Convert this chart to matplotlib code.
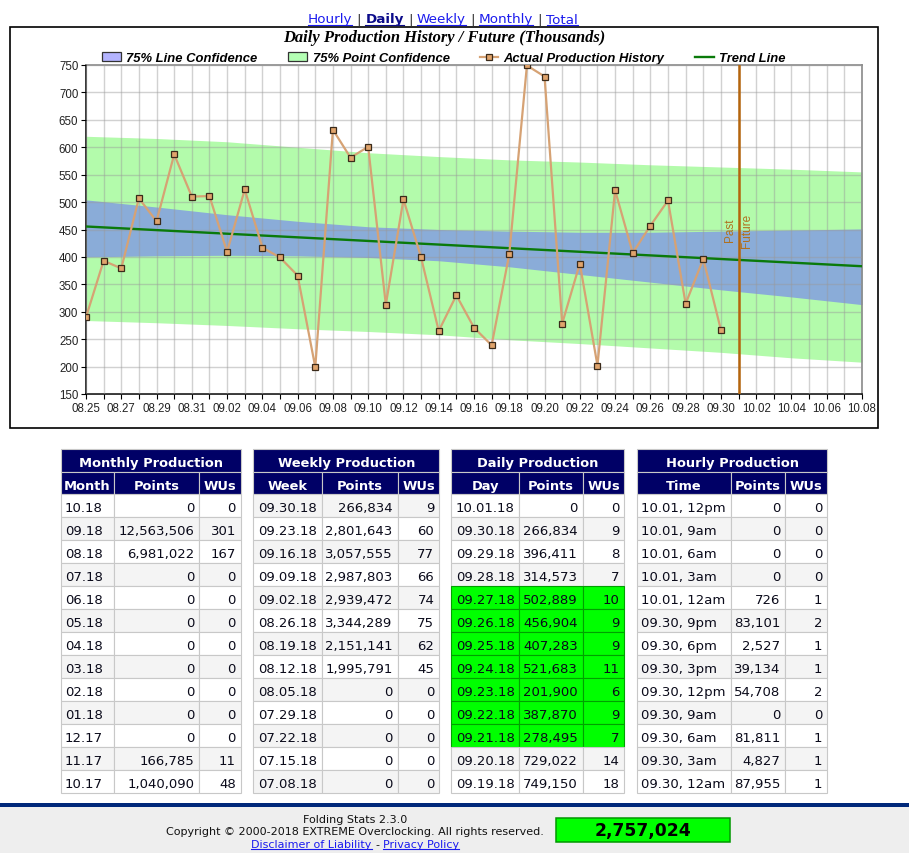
#!/usr/bin/env python3
"""Folding stats page: daily production chart + production tables."""
import matplotlib
matplotlib.use("Agg")
import matplotlib.pyplot as plt
import matplotlib.dates as mdates
from matplotlib.patches import Rectangle
from matplotlib.font_manager import FontProperties
import pandas as pd

W, H = 909, 854

# ---- chart data (thousands of points) ----
history_days = pd.date_range("2018-08-25", "2018-09-30", freq="D")
history_points = [290, 393, 379, 507, 465, 587, 510, 511, 409, 523, 417, 399, 366,
                  199, 632, 581, 601, 313, 505, 399, 265, 330, 271, 239, 405,
                  749.150, 729.022, 278.495, 387.870, 201.900, 521.683, 407.283,
                  456.904, 502.889, 314.573, 396.411, 266.834]

trend_days = pd.to_datetime(["2018-08-25", "2018-10-08"])
trend_points = [455.5, 383.0]

band_days = pd.to_datetime(["2018-08-25", "2018-08-29", "2018-09-02", "2018-09-06",
                            "2018-09-10", "2018-09-14", "2018-09-18", "2018-09-22",
                            "2018-09-26", "2018-09-30", "2018-10-04", "2018-10-08"])
line_conf_hi = [504, 491, 477, 465, 455, 450, 447, 445, 445, 447, 449, 451]
line_conf_lo = [400, 402, 403, 402, 399, 393, 382, 368, 354, 340, 327, 313]
point_conf_hi = [620, 616, 610, 600, 590, 583, 577, 573, 568, 564, 560, 555]
point_conf_lo = [284, 280, 275, 269, 264, 258, 249, 242, 234, 226, 216, 208]

past_future_day = pd.Timestamp("2018-10-01")

# ---- table data ----
monthly_labels = ["10.18", "09.18", "08.18", "07.18", "06.18", "05.18", "04.18",
                  "03.18", "02.18", "01.18", "12.17", "11.17", "10.17"]
monthly_points = [0, 12563506, 6981022, 0, 0, 0, 0, 0, 0, 0, 0, 166785, 1040090]
monthly_wus = [0, 301, 167, 0, 0, 0, 0, 0, 0, 0, 0, 11, 48]

weekly_labels = ["09.30.18", "09.23.18", "09.16.18", "09.09.18", "09.02.18", "08.26.18",
                 "08.19.18", "08.12.18", "08.05.18", "07.29.18", "07.22.18", "07.15.18",
                 "07.08.18"]
weekly_points = [266834, 2801643, 3057555, 2987803, 2939472, 3344289, 2151141,
                 1995791, 0, 0, 0, 0, 0]
weekly_wus = [9, 60, 77, 66, 74, 75, 62, 45, 0, 0, 0, 0, 0]

daily_labels = ["10.01.18", "09.30.18", "09.29.18", "09.28.18", "09.27.18", "09.26.18",
                "09.25.18", "09.24.18", "09.23.18", "09.22.18", "09.21.18", "09.20.18",
                "09.19.18"]
daily_points = [0, 266834, 396411, 314573, 502889, 456904, 407283, 521683, 201900,
                387870, 278495, 729022, 749150]
daily_wus = [0, 9, 8, 7, 10, 9, 9, 11, 6, 9, 7, 14, 18]
daily_green = [4, 5, 6, 7, 8, 9, 10]

hourly_labels = ["10.01, 12pm", "10.01, 9am", "10.01, 6am", "10.01, 3am", "10.01, 12am",
                 "09.30, 9pm", "09.30, 6pm", "09.30, 3pm", "09.30, 12pm", "09.30, 9am",
                 "09.30, 6am", "09.30, 3am", "09.30, 12am"]
hourly_points = [0, 0, 0, 0, 726, 83101, 2527, 39134, 54708, 0, 81811, 4827, 87955]
hourly_wus = [0, 0, 0, 0, 1, 2, 1, 1, 2, 0, 1, 1, 1]

total_points = 2757024

# ---- styles ----
GREEN_BAND = "#b3fbab"
BLUE_BAND = "#8aacd8"
HIST = dict(color="#d6a274", lw=1.6, marker="s", ms=5, mfc="#e0a46c", mec="#3a2a1a", mew=0.9)
TREND = dict(color="#0a7a0a", lw=1.7)
PF_COLOR = "#b5650d"
NAVY = "#000066"
CELL_EDGE = "#c8c8c8"
STRIPE = "#f4f4f4"
LINK = "#1a1aee"

fig = plt.figure(figsize=(W / 100, H / 100), dpi=100)
renderer = fig.canvas.get_renderer()

page = fig.add_axes([0, 0, 1, 1])
page.set_xlim(0, W)
page.set_ylim(H, 0)
page.axis("off")
page.set_zorder(0)


def text_width(txt, **kw):
    prop = FontProperties(**kw)
    w, _, _ = renderer.get_text_width_height_descent(txt, prop, ismath=False)
    return w


def text_run(pieces, cx, baseline, size, family="DejaVu Sans"):
    """pieces: (text, color, weight, underline); spaced by one space, centred on cx."""
    gap = text_width("x x", family=family, size=size) - text_width("xx", family=family, size=size)
    widths = [text_width(t, family=family, size=size, weight=wt) for t, _, wt, _ in pieces]
    x = cx - (sum(widths) + gap * (len(pieces) - 1)) / 2
    for (t, col, wt, ul), w in zip(pieces, widths):
        page.text(x, baseline, t, color=col, fontsize=size, family=family, weight=wt,
                  ha="left", va="baseline")
        if ul:
            page.plot([x, x + w], [baseline + 2, baseline + 2], color=col, lw=0.8)
        x += w + gap


# ---- navigation links ----
text_run([("Hourly", LINK, "normal", True), ("|", "#333333", "normal", False),
          ("Daily", "#0b0b8a", "bold", True), ("|", "#333333", "normal", False),
          ("Weekly", LINK, "normal", True), ("|", "#333333", "normal", False),
          ("Monthly", LINK, "normal", True), ("|", "#333333", "normal", False),
          ("Total", LINK, "normal", True)], 443, 23.5, 9.7)

# ---- chart frame, title, legend ----
page.add_patch(Rectangle((9.5, 27.5), 868, 401, fill=False, ec="black", lw=1.2))
page.text(444, 38.5, "Daily Production History / Future (Thousands)", ha="center",
          va="center", family="Liberation Serif", style="italic", weight="bold",
          fontsize=11.9)

leg_font = dict(family="Liberation Sans", style="italic", weight="bold", fontsize=9.4,
                ha="left", va="baseline")
page.add_patch(Rectangle((102, 52.5), 19, 9.5, fc="#b4b4ff", ec="#333333", lw=0.9))
page.text(126, 62, "75% Line Confidence", **leg_font)
page.add_patch(Rectangle((288, 52.5), 19, 9.5, fc="#b4ffb4", ec="#333333", lw=0.9))
page.text(313, 62, "75% Point Confidence", **leg_font)
page.plot([480, 498], [57.5, 57.5], color=HIST["color"], lw=HIST["lw"])
page.plot([489], [57.5], ls="none", **{k: v for k, v in HIST.items() if k not in ("lw",)})
page.text(503, 62, "Actual Production History", **leg_font)
page.plot([695, 714], [57.5, 57.5], **TREND)
page.text(719, 62, "Trend Line", **leg_font)

# ---- chart ----
ax = fig.add_axes([86 / W, 1 - 395 / H, 776 / W, 329 / H])
ax.set_zorder(1)
ax.fill_between(band_days, point_conf_lo, point_conf_hi, color=GREEN_BAND, lw=0, zorder=1)
ax.fill_between(band_days, line_conf_lo, line_conf_hi, color=BLUE_BAND, lw=0, zorder=1.1)
ax.plot(trend_days, trend_points, zorder=3, **TREND)
ax.plot(history_days, history_points, zorder=4, **HIST)
ax.axvline(past_future_day, color=PF_COLOR, lw=1.8, zorder=5)
half_day = pd.Timedelta(hours=11)
ax.text(past_future_day - half_day, 450, "Past", rotation=90, ha="center", va="center",
        color="#b0701e", fontsize=8.5, family="Liberation Sans")
ax.text(past_future_day + half_day, 450, "Future", rotation=90, ha="center", va="center",
        color="#b0701e", fontsize=8.5, family="Liberation Sans")

ax.set_xlim(pd.Timestamp("2018-08-25"), pd.Timestamp("2018-10-08"))
ax.set_ylim(150, 750)
ax.xaxis.set_major_locator(mdates.DayLocator(interval=2))
ax.xaxis.set_minor_locator(mdates.DayLocator())
ax.xaxis.set_major_formatter(mdates.DateFormatter("%m.%d"))
ax.set_yticks(range(150, 751, 50))
ax.grid(True, which="both", axis="x", color="#9a9a9a", alpha=0.45, lw=1.0, zorder=2)
ax.grid(True, which="major", axis="y", color="#9a9a9a", alpha=0.45, lw=1.0, zorder=2)
ax.set_axisbelow(False)
ax.tick_params(which="both", length=3.5, width=0.8, color="black", pad=2,
               labelsize=8.3, labelcolor="#222222")
for lab in ax.get_xticklabels() + ax.get_yticklabels():
    lab.set_family("Liberation Sans")
for side in ("top", "right"):
    ax.spines[side].set_color("#8a8a8a")
    ax.spines[side].set_linewidth(1.2)
for side in ("left", "bottom"):
    ax.spines[side].set_color("black")
    ax.spines[side].set_linewidth(1.1)


# ---- tables ----
def draw_table(x0, widths, title, headers, labels, points, wus, first_gray=False, green=()):
    total = sum(widths)
    page.add_patch(Rectangle((x0, 450), total, 22.5, fc=NAVY, ec=CELL_EDGE, lw=0.8))
    page.text(x0 + total / 2, 466.7, title, color="white", weight="bold", fontsize=9.4,
              ha="center", va="baseline")
    xs = x0
    for w, h in zip(widths, headers):
        page.add_patch(Rectangle((xs, 472.5), w, 22.5, fc=NAVY, ec=CELL_EDGE, lw=0.8))
        page.text(xs + w / 2, 489.8, h, color="white", weight="bold", fontsize=9.4,
                  ha="center", va="baseline")
        xs += w
    for r, (lab, pts, wu) in enumerate(zip(labels, points, wus)):
        top = 495 + r * 23
        if r in green:
            fc, ec = "#00ff00", "#00a000"
        else:
            fc = STRIPE if (r % 2 == 0) == first_gray else "white"
            ec = CELL_EDGE
        cells = [lab, f"{pts:,}", f"{wu}"]
        xs = x0
        for c, (w, val) in enumerate(zip(widths, cells)):
            page.add_patch(Rectangle((xs, top), w, 23, fc=fc, ec=ec, lw=0.8))
            if c == 0:
                page.text(xs + 4.5, top + 17, val, fontsize=9.5, color="#0a0a1a",
                          ha="left", va="baseline")
            else:
                page.text(xs + w - 5, top + 17, val, fontsize=9.5, color="#0a0a1a",
                          ha="right", va="baseline")
            xs += w


draw_table(60.5, [53.8, 85, 41.7], "Monthly Production", ["Month", "Points", "WUs"],
           monthly_labels, monthly_points, monthly_wus)
draw_table(253.3, [68.4, 76, 41.6], "Weekly Production", ["Week", "Points", "WUs"],
           weekly_labels, weekly_points, weekly_wus, first_gray=True)
draw_table(451.3, [68, 63.4, 41.6], "Daily Production", ["Day", "Points", "WUs"],
           daily_labels, daily_points, daily_wus, green=daily_green)
draw_table(636.7, [94, 54.6, 42], "Hourly Production", ["Time", "Points", "WUs"],
           hourly_labels, hourly_points, hourly_wus)

# ---- footer ----
page.add_patch(Rectangle((0, 803.5), W, 4, fc="#00287a", lw=0))
page.add_patch(Rectangle((0, 807.5), W, 46.5, fc="#eeeeee", lw=0))
page.text(355, 823, "Folding Stats 2.3.0", fontsize=8, ha="center", va="baseline",
          color="#111111")
page.text(355, 835.5, "Copyright \u00a9 2000-2018 EXTREME Overclocking. All rights reserved.",
          fontsize=8, ha="center", va="baseline", color="#111111")
text_run([("Disclaimer of Liability", LINK, "normal", True), ("-", "#111111", "normal", False),
          ("Privacy Policy", LINK, "normal", True)], 355, 848, 8)
page.add_patch(Rectangle((556, 819.3), 174, 23.4, fc="#00ff00", ec="#009900", lw=1.1))
page.text(643, 831.5, f"{total_points:,}", fontsize=12.3, weight="bold", ha="center",
          va="center", color="black")

fig.savefig("out.png", dpi=100)
plt.close(fig)
